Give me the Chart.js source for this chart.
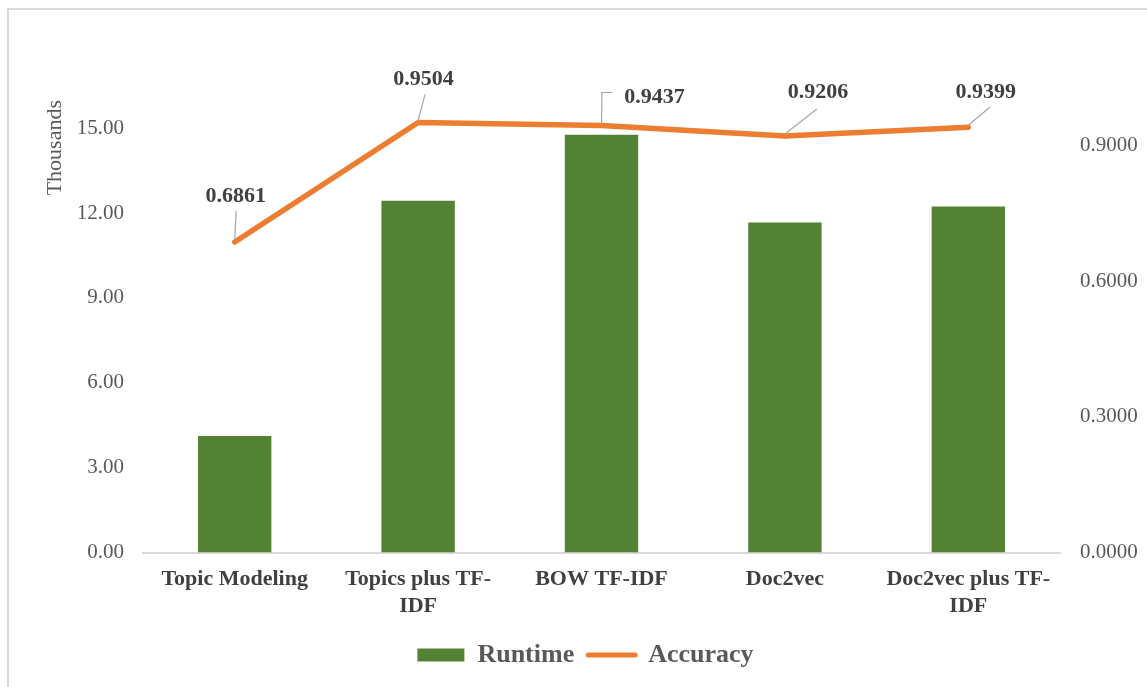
<!DOCTYPE html>
<html>
<head>
<meta charset="utf-8">
<title>Runtime and Accuracy by Method</title>
<script src="https://cdn.jsdelivr.net/npm/chart.js@4/dist/chart.umd.min.js"></script>
<style>
  html, body { margin: 0; padding: 0; background: #ffffff; }
  #wrap { width: 1147px; height: 687px; position: relative; }
</style>
</head>
<body>
<div id="wrap"><canvas id="chart" width="1147" height="687"></canvas></div>
<script>
// ---- data ----
const categories = [
  'Topic Modeling',
  ['Topics plus TF-', 'IDF'],
  'BOW TF-IDF',
  'Doc2vec',
  ['Doc2vec plus TF-', 'IDF']
];
const runtimeThousands = [4.12, 12.44, 14.77, 11.67, 12.23];
const accuracy = [0.6861, 0.9504, 0.9437, 0.9206, 0.9399];
const runtimeTicks = [0, 3, 6, 9, 12, 15];
const accuracyTicks = [0, 0.3, 0.6, 0.9];

// ---- styling ----
const FONT = "'Liberation Serif', 'Times New Roman', serif";
const GREEN = '#548235';
const ORANGE = '#ED7D31';
const TICK_GREY = '#595959';
const TEXT_DARK = '#404040';
const LEADER_GREY = '#a6a6a6';
const CANVAS_H = 687;
const PLOT_BOTTOM = 552.5;
const PAD_BOTTOM = 9;

// Callout placement for each accuracy label, relative to its point:
// label centre offset and a leader polyline.
const calloutLayout = [
  { dx: 1,    dy: -46, leader: [[0, -2], [1.5, -31]] },
  { dx: 5.5,  dy: -43, leader: [[0, -2], [7, -28]] },
  { dx: 53,   dy: -28, leader: [[0, -1], [0.5, -33], [11, -33]] },
  { dx: 33,   dy: -44, leader: [[0, -2], [32, -27]] },
  { dx: 17.5, dy: -35, leader: [[0, -2], [21.5, -20]] }
];

// Light frame around the chart
const framePlugin = {
  id: 'frame',
  beforeDraw(chart) {
    const ctx = chart.ctx;
    ctx.save();
    ctx.fillStyle = '#ffffff';
    ctx.fillRect(0, 0, chart.width, chart.height);
    ctx.strokeStyle = '#d9d9d9';
    ctx.lineWidth = 2;
    ctx.strokeRect(8, 9, chart.width + 20, chart.height + 20);
    ctx.restore();
  }
};

// Value callouts with leader lines for the accuracy series
const calloutPlugin = {
  id: 'callouts',
  afterDatasetsDraw(chart) {
    const meta = chart.getDatasetMeta(1);
    const values = chart.data.datasets[1].data;
    const ctx = chart.ctx;
    ctx.save();
    meta.data.forEach((pt, i) => {
      const lay = calloutLayout[i];
      const x = pt.x, y = pt.y;
      ctx.strokeStyle = LEADER_GREY;
      ctx.lineWidth = 1.2;
      ctx.beginPath();
      lay.leader.forEach(([lx, ly], k) => {
        if (k === 0) ctx.moveTo(x + lx, y + ly);
        else ctx.lineTo(x + lx, y + ly);
      });
      ctx.stroke();
      ctx.fillStyle = TEXT_DARK;
      ctx.font = `bold 22px ${FONT}`;
      ctx.textAlign = 'center';
      ctx.textBaseline = 'middle';
      ctx.fillText(values[i].toFixed(4), x + lay.dx, y + lay.dy);
    });
    ctx.restore();
  }
};

new Chart(document.getElementById('chart'), {
  data: {
    labels: categories,
    datasets: [
      {
        type: 'bar',
        label: 'Runtime',
        data: runtimeThousands,
        backgroundColor: GREEN,
        borderWidth: 0,
        yAxisID: 'y',
        barPercentage: 0.4,
        categoryPercentage: 1.0,
        order: 1
      },
      {
        type: 'line',
        label: 'Accuracy',
        data: accuracy,
        borderColor: ORANGE,
        backgroundColor: ORANGE,
        borderWidth: 5.5,
        borderCapStyle: 'round',
        borderJoinStyle: 'round',
        pointRadius: 0,
        tension: 0,
        yAxisID: 'y1',
        order: 0
      }
    ]
  },
  options: {
    responsive: false,
    animation: false,
    events: [],
    layout: { padding: { top: 100, left: 24, right: 0, bottom: PAD_BOTTOM } },
    plugins: {
      tooltip: { enabled: false },
      legend: {
        position: 'bottom',
        labels: {
          usePointStyle: true,
          pointStyleWidth: 47,
          boxHeight: 13,
          padding: 14,
          color: TICK_GREY,
          font: { family: FONT, size: 26, weight: 'bold' },
          generateLabels: () => [
            { text: 'Runtime', pointStyle: 'rect', fillStyle: GREEN, strokeStyle: GREEN,
              lineWidth: 0, fontColor: TICK_GREY, hidden: false, datasetIndex: 0 },
            { text: 'Accuracy', pointStyle: 'line', fillStyle: ORANGE, strokeStyle: ORANGE,
              lineWidth: 5, lineCap: 'round', fontColor: TICK_GREY, hidden: false, datasetIndex: 1 }
          ]
        }
      }
    },
    scales: {
      x: {
        type: 'category',
        offset: true,
        grid: { display: false, drawTicks: false },
        border: { display: true, color: '#d9d9d9', width: 2 },
        ticks: {
          color: TEXT_DARK,
          font: { family: FONT, size: 22, weight: 'bold' },
          padding: 14,
          maxRotation: 0,
          autoSkip: false
        },
        afterFit(scale) {
          const lg = scale.chart.legend ? scale.chart.legend.height : 46;
          scale.height = CANVAS_H - PAD_BOTTOM - lg - PLOT_BOTTOM;
        }
      },
      y: {
        type: 'linear',
        position: 'left',
        min: 0,
        max: 16,
        grid: { display: false, drawTicks: false },
        border: { display: false },
        afterBuildTicks(scale) { scale.ticks = runtimeTicks.map(v => ({ value: v })); },
        ticks: {
          color: TICK_GREY,
          font: { family: FONT, size: 21 },
          padding: 19,
          callback: v => Number(v).toFixed(2)
        },
        title: {
          display: true,
          text: 'Thousands',
          align: 'end',
          color: TICK_GREY,
          font: { family: FONT, size: 22 },
          padding: { top: 18, bottom: 0 }
        },
        afterFit(scale) { scale.width = 119; }
      },
      y1: {
        type: 'linear',
        position: 'right',
        min: 0,
        max: 1,
        grid: { display: false, drawTicks: false },
        border: { display: false },
        afterBuildTicks(scale) { scale.ticks = accuracyTicks.map(v => ({ value: v })); },
        ticks: {
          color: TICK_GREY,
          font: { family: FONT, size: 21 },
          padding: 20,
          callback: v => Number(v).toFixed(4)
        },
        afterFit(scale) { scale.width = 87; }
      }
    }
  },
  plugins: [framePlugin, calloutPlugin]
});
</script>
</body>
</html>
